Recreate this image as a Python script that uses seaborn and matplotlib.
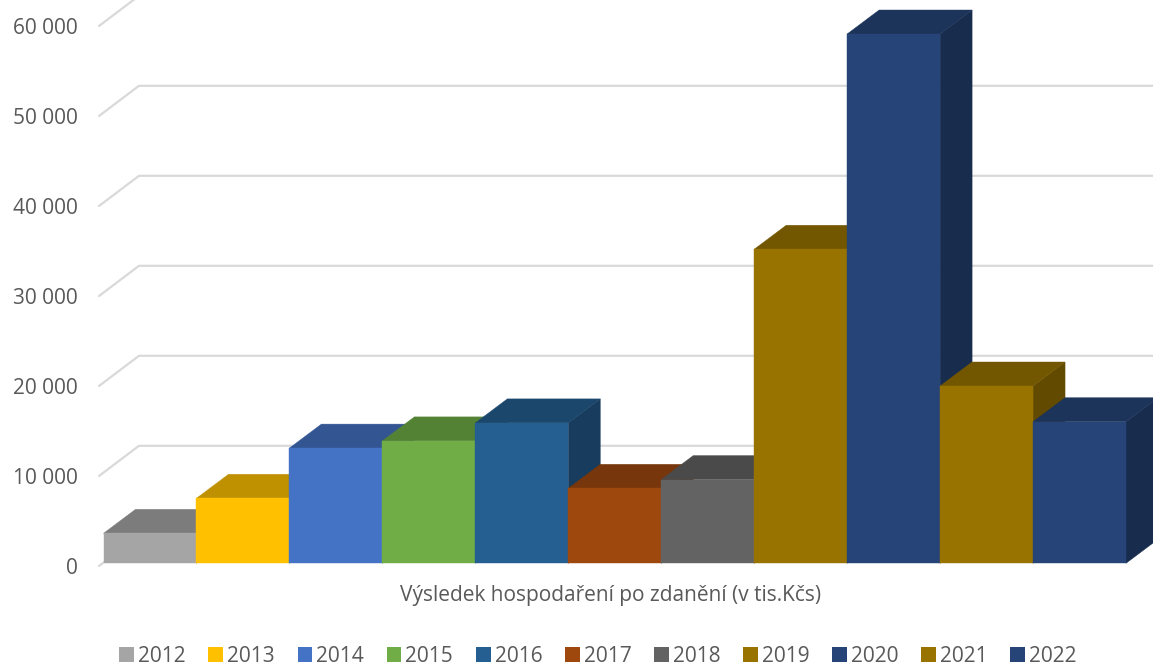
import matplotlib
matplotlib.use("Agg")
import matplotlib.pyplot as plt
import matplotlib.colors as mcolors
from matplotlib.patches import Polygon
from matplotlib.transforms import ScaledTranslation
import pandas as pd
import seaborn as sns

years = ["2012", "2013", "2014", "2015", "2016", "2017", "2018", "2019", "2020", "2021", "2022"]
values = [3330, 7220, 12800, 13600, 15600, 8330, 9300, 34890, 58810, 19700, 15730]
colors = ["#A5A5A5", "#FFC000", "#4472C4", "#70AD47", "#255E91", "#9E480E",
          "#636363", "#997300", "#264478", "#997300", "#264478"]
y_ticks = [0, 10000, 20000, 30000, 40000, 50000, 60000]
y_labels = ["0", "10 000", "20 000", "30 000", "40 000", "50 000", "60 000"]
axis_title = "Výsledek hospodaření po zdanění (v tis.Kčs)"

W, H = 1153, 666
LEFT, RIGHT, BASE = 103.5, 1126.0, 563.3
PX_PER_CAT = (RIGHT - LEFT) / len(years)
PX_PER_VAL = 90.0 / 10000
TEXT = "#595959"

sns.set_theme(style="white")
plt.rcParams["font.family"] = ["Open Sans", "DejaVu Sans"]

fig = plt.figure(figsize=(W / 100, H / 100), dpi=100, facecolor="white")
ax = fig.add_axes([LEFT / W, (H - BASE) / H, (RIGHT - LEFT) / W, BASE / H])

df = pd.DataFrame({"year": years, "value": values})
sns.barplot(data=df, x="year", y="value", hue="year", palette=dict(zip(years, colors)),
            dodge=False, width=1.0, legend=True, ax=ax, saturation=1.0, linewidth=0)
ax.set_xlim(-0.5, len(years) - 0.5)
ax.set_ylim(0, BASE / PX_PER_VAL)
sns.despine(ax=ax, left=True, bottom=True)
ax.patch.set_alpha(0)


def dx(px):
    return px / PX_PER_CAT


def dy(px):
    return px / PX_PER_VAL


# depth of the pseudo-3D box
DX, DY = dx(32), dy(24)

# back-wall gridlines with their slanted floor-side part
for t in y_ticks:
    xs = [-0.5 + dx(-4.5), -0.5 + dx(35.5), -0.5 + dx(W + 20 - LEFT)]
    ys = [t + dy(-2.7), t + dy(27.5), t + dy(27.5)]
    ax.plot(xs, ys, color="#D9D9D9", lw=1.6, clip_on=False, zorder=1, solid_joinstyle="miter")


def shade(c, f):
    r, g, b = mcolors.to_rgb(c)
    return (r * f, g * f, b * f)


bars = [p for cont in ax.containers for p in cont if p.get_height() > 0]
bars = sorted(bars, key=lambda p: p.get_x())
for i, (bar, col) in enumerate(zip(bars, colors)):
    x0, x1 = bar.get_x(), bar.get_x() + bar.get_width()
    top = bar.get_height()
    z = 2 + 3 * i
    ax.add_patch(Polygon([(x1, 0), (x1 + DX, DY), (x1 + DX, top + DY), (x1, top)],
                         closed=True, facecolor=shade(col, 0.64), edgecolor=shade(col, 0.64),
                         linewidth=0.3, clip_on=False, zorder=z))
    ax.add_patch(Polygon([(x0, top), (x0 + DX, top + DY), (x1 + DX, top + DY), (x1, top)],
                         closed=True, facecolor=shade(col, 0.75), edgecolor=shade(col, 0.75),
                         linewidth=0.3, clip_on=False, zorder=z + 1))
    bar.set_edgecolor(col)
    bar.set_linewidth(0.3)
    bar.set_zorder(z + 2)
    bar.set_clip_on(False)

ax.set_yticks(y_ticks)
ax.set_yticklabels(y_labels, fontsize=15, color=TEXT)
ax.tick_params(axis="y", length=0, pad=18.4)
label_shift = ScaledTranslation(0, -2.5 / 100, fig.dpi_scale_trans)
for lab in ax.get_yticklabels():
    lab.set_transform(lab.get_transform() + label_shift)
ax.set_xticks([])
ax.set_ylabel("")
ax.set_xlabel(axis_title, fontsize=15, color=TEXT)
ax.xaxis.set_label_coords((610.5 - LEFT) / (RIGHT - LEFT), -(596 - BASE) / BASE)
ax.xaxis.label.set_verticalalignment("center")

sns.move_legend(ax, "center", bbox_to_anchor=((598 - LEFT) / (RIGHT - LEFT), -(656.5 - BASE) / BASE),
                ncol=len(years), frameon=False, title=None, fontsize=15,
                handlelength=0.7, handleheight=0.7, handletextpad=0.2, columnspacing=1.09,
                borderpad=0, borderaxespad=0)
for t in ax.get_legend().get_texts():
    t.set_color(TEXT)

fig.savefig("out.png", dpi=100, facecolor="white")
